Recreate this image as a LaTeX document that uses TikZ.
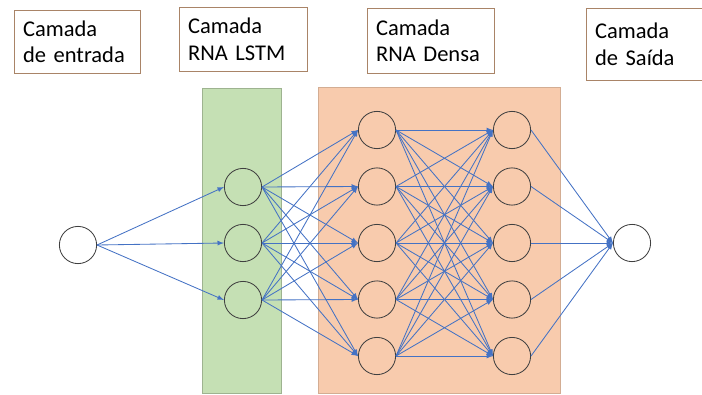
\documentclass[tikz,border=0pt]{standalone}
\usepackage{fontspec}
\setmainfont{Carlito}
\usepackage{xcolor}
\usetikzlibrary{arrows}

\definecolor{linkblue}{HTML}{4472C4}
\definecolor{boxbrown}{HTML}{A98467}
\definecolor{lstmgreen}{HTML}{C5E0B4}
\definecolor{densepeach}{HTML}{F8CBAD}

\begin{document}
\begin{tikzpicture}[x=0.025cm, y=-0.025cm,
  neuron/.style={circle, draw=black!75, line width=0.6pt, minimum size=0.93cm, inner sep=0pt},
  link/.style={-latex, draw=linkblue, line width=0.6pt},
  layerbox/.style={draw=boxbrown, line width=0.5pt, anchor=north west, align=left,
    inner xsep=0.22cm, inner ysep=0pt, font=\fontsize{16}{19}\selectfont}]
\useasboundingbox (0,0) rectangle (702,394);

% layer backgrounds
\fill[lstmgreen, draw=lstmgreen!80!black, line width=0.4pt] (202,88) rectangle (281,393);
\fill[densepeach, draw=densepeach!85!black, line width=0.4pt] (318,87) rectangle (560,393);

% captions
\node[layerbox, text width=2.71cm, minimum height=1.575cm] (capIn) at (14,10) {Camada\\de entrada};
\node[layerbox, text width=2.76cm, minimum height=1.6cm] (capLstm) at (179,7) {Camada\\RNA LSTM};
\node[layerbox, text width=2.735cm, minimum height=1.625cm] (capDense) at (367,8) {Camada\\RNA Densa};
\node[layerbox, text width=2.51cm, minimum height=1.8cm] (capOut) at (586,8) {Camada\\de Saída};

% neurons
\node[neuron, fill=white] (In) at (78,245) {};
\foreach \i/\y in {1/187,2/243,3/300}
  \node[neuron] (L\i) at (243,\y) {};
\foreach \i in {1,...,5}{
  \node[neuron] (A\i) at (377,{130+56.5*(\i-1)}) {};
  \node[neuron] (B\i) at (512,{130+56.5*(\i-1)}) {};
}
\node[neuron, fill=white] (Out) at (632,243) {};

% connections
\foreach \i in {1,2,3}{
  \draw[link] (In.east) -- (L\i.west);
  \foreach \j in {1,...,5}
    \draw[link] (L\i.east) -- (A\j.west);
}
\foreach \i in {1,...,5}{
  \foreach \j in {1,...,5}
    \draw[link] (A\i.east) -- (B\j.west);
  \draw[link] (B\i.east) -- (Out.west);
}
\end{tikzpicture}
\end{document}
